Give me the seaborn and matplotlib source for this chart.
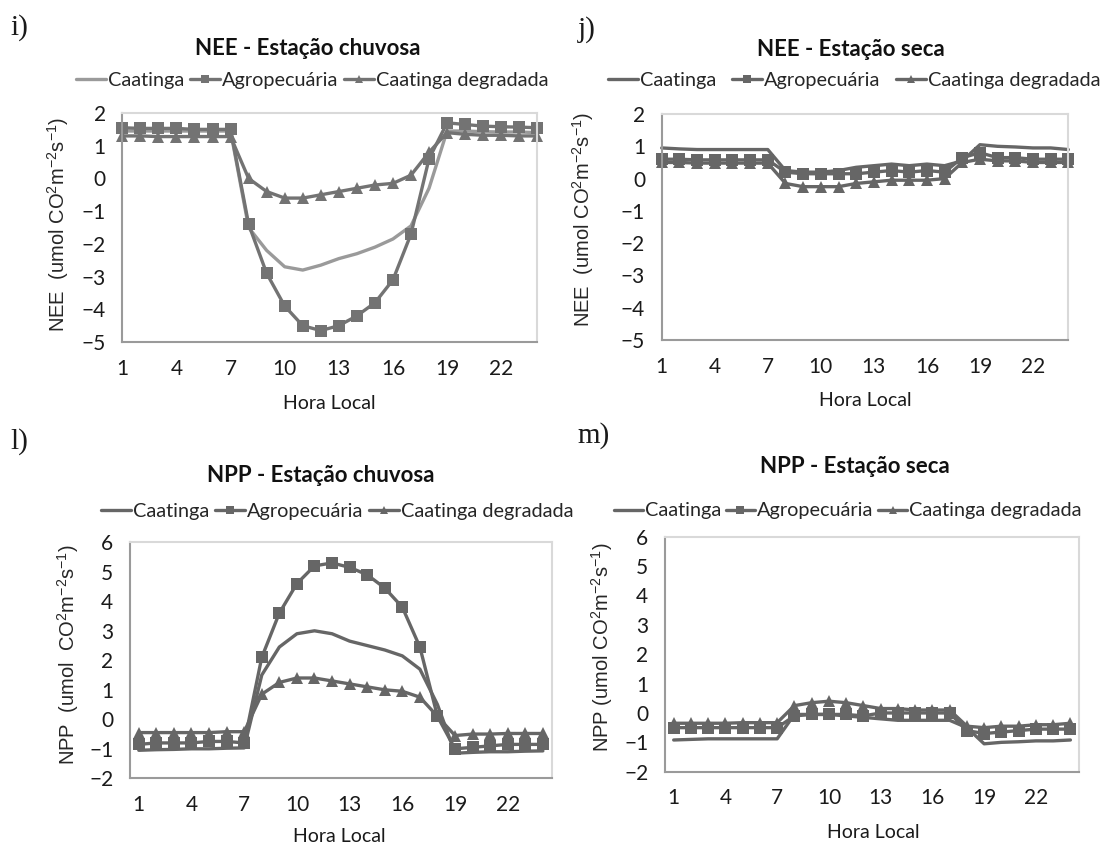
import numpy as np
import pandas as pd
import seaborn as sns
import matplotlib.pyplot as plt
from matplotlib.ticker import MultipleLocator, FixedLocator

sns.set_style("white")
plt.rcParams['font.family'] = ['Lato', 'DejaVu Sans']

horas = list(range(1, 25))
series = ["Caatinga", "Agropecuária", "Caatinga degradada"]

# NEE - estacao chuvosa
nee_chuv_caat = [1.45, 1.45, 1.45, 1.45, 1.45, 1.45, 1.45, -1.5, -2.2, -2.7, -2.8, -2.65,
                 -2.45, -2.3, -2.1, -1.85, -1.45, -0.3, 1.45, 1.45, 1.43, 1.42, 1.42, 1.4]
nee_chuv_agro = [1.55, 1.53, 1.53, 1.53, 1.5, 1.5, 1.5, -1.4, -2.9, -3.9, -4.5, -4.65,
                 -4.5, -4.2, -3.8, -3.1, -1.7, 0.6, 1.7, 1.65, 1.6, 1.58, 1.57, 1.55]
nee_chuv_degr = [1.3, 1.3, 1.28, 1.28, 1.28, 1.28, 1.28, 0.0, -0.4, -0.6, -0.6, -0.5,
                 -0.4, -0.3, -0.2, -0.15, 0.1, 0.8, 1.4, 1.35, 1.32, 1.32, 1.3, 1.3]

# NEE - estacao seca
nee_seca_caat = [0.95, 0.92, 0.9, 0.9, 0.9, 0.9, 0.9, 0.25, 0.2, 0.2, 0.25, 0.35,
                 0.4, 0.45, 0.4, 0.45, 0.4, 0.55, 1.05, 1.0, 0.98, 0.95, 0.95, 0.9]
nee_seca_agro = [0.6, 0.6, 0.58, 0.58, 0.58, 0.58, 0.58, 0.2, 0.15, 0.15, 0.15, 0.15,
                 0.2, 0.25, 0.2, 0.25, 0.2, 0.65, 0.8, 0.65, 0.65, 0.6, 0.6, 0.6]
nee_seca_degr = [0.5, 0.5, 0.48, 0.48, 0.48, 0.48, 0.48, -0.15, -0.25, -0.25, -0.25, -0.15,
                 -0.1, -0.05, -0.05, -0.05, 0.0, 0.5, 0.6, 0.55, 0.55, 0.5, 0.5, 0.5]

# NPP - estacao chuvosa
npp_chuv_caat = [-1.05, -1.03, -1.02, -1.0, -1.0, -0.98, -0.97, 1.5, 2.45, 2.9, 3.0, 2.9,
                 2.65, 2.5, 2.35, 2.15, 1.7, 0.5, -1.15, -1.12, -1.1, -1.1, -1.08, -1.07]
npp_chuv_agro = [-0.85, -0.8, -0.8, -0.8, -0.75, -0.75, -0.8, 2.1, 3.6, 4.6, 5.2, 5.3,
                 5.15, 4.9, 4.45, 3.8, 2.45, 0.1, -1.0, -0.95, -0.9, -0.85, -0.85, -0.85]
npp_chuv_degr = [-0.45, -0.45, -0.45, -0.45, -0.45, -0.42, -0.42, 0.85, 1.25, 1.4, 1.4, 1.3,
                 1.2, 1.1, 1.0, 0.95, 0.75, 0.1, -0.55, -0.5, -0.5, -0.48, -0.48, -0.48]

# NPP - estacao seca
npp_seca_caat = [-0.92, -0.9, -0.88, -0.88, -0.88, -0.88, -0.88, -0.05, -0.05, -0.05, -0.1, -0.15,
                 -0.2, -0.25, -0.25, -0.25, -0.25, -0.5, -1.05, -1.0, -0.98, -0.95, -0.95, -0.92]
npp_seca_agro = [-0.5, -0.5, -0.5, -0.5, -0.5, -0.5, -0.5, -0.1, -0.05, -0.05, -0.05, -0.1,
                 0.0, 0.0, 0.0, 0.0, 0.0, -0.6, -0.7, -0.65, -0.6, -0.55, -0.55, -0.55]
npp_seca_degr = [-0.35, -0.35, -0.35, -0.35, -0.33, -0.33, -0.33, 0.25, 0.35, 0.4, 0.35, 0.25,
                 0.15, 0.15, 0.1, 0.1, 0.1, -0.45, -0.5, -0.45, -0.45, -0.4, -0.4, -0.35]

fig = plt.figure(figsize=(11.14, 8.46), dpi=100)

panels = [
    dict(letter="i)", title="NEE - Estação chuvosa",
         ylabel=r"NEE  (umol CO$\mathregular{^2}$m$\mathregular{^{-2}}$s$\mathregular{^{-1}}$)",
         data=[nee_chuv_caat, nee_chuv_agro, nee_chuv_degr],
         rect=[0.1098, 0.5957, 0.3725, 0.2707], ylim=(-5, 2), between=False,
         colors=["#9a9a9a", "#737373", "#737373"],
         lpos=(0.009, 0.968), tpos=(0.2765, 0.943), legpos=(0.280, 0.905), colsp=0.3,
         ylpos=(0.052, 0.735), xlpos=(0.296, 0.5236)),
    dict(letter="j)", title="NEE - Estação seca",
         ylabel=r"NEE  (umol CO$\mathregular{^2}$m$\mathregular{^{-2}}$s$\mathregular{^{-1}}$)",
         data=[nee_seca_caat, nee_seca_agro, nee_seca_degr],
         rect=[0.594, 0.5981, 0.365, 0.2671], ylim=(-5, 2), between=False,
         colors=["#666666", "#666666", "#666666"],
         lpos=(0.519, 0.965), tpos=(0.764, 0.941), legpos=(0.767, 0.905), colsp=0.8,
         ylpos=(0.5233, 0.740), xlpos=(0.777, 0.527)),
    dict(letter="l)", title="NPP - Estação chuvosa",
         ylabel=r"NPP  (umol  CO$\mathregular{^2}$m$\mathregular{^{-2}}$s$\mathregular{^{-1}}$)",
         data=[npp_chuv_caat, npp_chuv_agro, npp_chuv_degr],
         rect=[0.1167, 0.080, 0.3785, 0.279], ylim=(-2, 6), between=True,
         colors=["#666666", "#666666", "#666666"],
         lpos=(0.009, 0.478), tpos=(0.288, 0.4385), legpos=(0.3025, 0.395), colsp=0.3,
         ylpos=(0.061, 0.2258), xlpos=(0.305, 0.0118)),
    dict(letter="m)", title="NPP - Estação seca",
         ylabel=r"NPP (umol CO$\mathregular{^2}$m$\mathregular{^{-2}}$s$\mathregular{^{-1}}$)",
         data=[npp_seca_caat, npp_seca_agro, npp_seca_degr],
         rect=[0.597, 0.0878, 0.3716, 0.2778], ylim=(-2, 6), between=True,
         colors=["#666666", "#666666", "#666666"],
         lpos=(0.518, 0.485), tpos=(0.7675, 0.448), legpos=(0.761, 0.396), colsp=0.2,
         ylpos=(0.540, 0.2346), xlpos=(0.7837, 0.0165)),
]

markers = [None, "s", "^"]

for p in panels:
    ax = fig.add_axes(p["rect"])
    for name, vals, mk, col in zip(series, p["data"], markers, p["colors"]):
        sns.lineplot(x=horas, y=vals, ax=ax, color=col, marker=mk, markersize=8,
                     markeredgecolor=col, markeredgewidth=0, linewidth=2.4,
                     clip_on=False, label=name)
    if p["between"]:
        ax.set_xlim(0.5, 24.5)
        ax.xaxis.set_minor_locator(FixedLocator(np.arange(0.5, 25, 1)))
        ax.set_xticks(range(1, 25, 3))
        ax.tick_params(axis="x", which="major", length=0)
    else:
        ax.set_xlim(1, 24)
        ax.xaxis.set_minor_locator(FixedLocator(horas))
        ax.set_xticks(range(1, 25, 3))
        ax.tick_params(axis="x", which="major", length=5)
    ax.set_ylim(*p["ylim"])
    ax.set_yticks(range(p["ylim"][0], p["ylim"][1] + 1))
    ax.yaxis.set_minor_locator(MultipleLocator(0.2))
    ax.tick_params(axis="both", which="both", direction="in", color="#9a9a9a", width=1.2)
    ax.tick_params(axis="y", which="both", length=5)
    ax.tick_params(axis="x", which="minor", length=5)
    ax.tick_params(axis="both", which="major", labelsize=15, pad=12, labelcolor="#1a1a1a")
    for s in ["left", "bottom"]:
        ax.spines[s].set_color("#9a9a9a")
        ax.spines[s].set_linewidth(1.5)
    for s in ["top", "right"]:
        ax.spines[s].set_color("#d9d9d9")
        ax.spines[s].set_linewidth(1.5)
    ax.set_xlabel("")
    ax.set_ylabel("")
    handles = ax.get_lines()[:3]
    ax.legend(handles, series, loc="center", bbox_to_anchor=p["legpos"],
              bbox_transform=fig.transFigure, ncol=3, frameon=False,
              fontsize=14.3, handlelength=1.5, handletextpad=0.1,
              columnspacing=p["colsp"], markerscale=0.7, borderaxespad=0)
    fig.text(p["lpos"][0], p["lpos"][1], p["letter"], family=["Liberation Serif"],
             fontsize=21, va="center", ha="left", color="#1a1a1a")
    fig.text(p["tpos"][0], p["tpos"][1], p["title"], fontsize=16, fontweight="bold",
             ha="center", va="center", color="#111111")
    fig.text(p["ylpos"][0], p["ylpos"][1], p["ylabel"], family=["Liberation Sans"],
             fontsize=14.5, rotation=90, ha="center", va="center")
    fig.text(p["xlpos"][0], p["xlpos"][1], "Hora Local", fontsize=14,
             ha="center", va="center", color="#1a1a1a")

fig.savefig("out.png", dpi=100)
